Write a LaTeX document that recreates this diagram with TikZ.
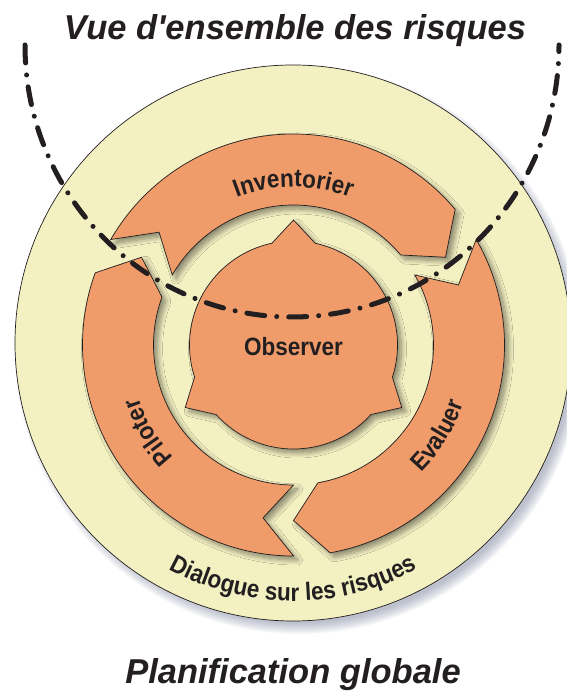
\documentclass[tikz,border=0pt]{standalone}
\usepackage{fontspec}
\setmainfont{Liberation Sans}
\newfontfamily\lblfont[FakeStretch=0.9]{Liberation Sans}
\usetikzlibrary{decorations.text,shadows.blur}
\definecolor{cream}{RGB}{243,240,194}
\definecolor{salmon}{RGB}{240,156,106}
\definecolor{ink}{RGB}{35,31,32}
\definecolor{rimshadow}{RGB}{105,115,145}

\newcommand{\lblstyle}{\lblfont\bfseries\fontsize{25pt}{28pt}\selectfont}

\begin{document}
\begin{tikzpicture}[x=1pt,y=1pt,
  band/.style={fill=salmon, draw=ink, line width=0.7pt, line join=miter,
    blur shadow={shadow xshift=4pt, shadow yshift=-4pt,
      shadow blur radius=5pt, shadow blur steps=12, shadow opacity=45}},
  disc/.style={fill=cream, draw=ink, line width=0.7pt},
  lbl/.style={text=ink, font=\lblstyle, inner sep=0pt},
  heading/.style={text=ink, inner sep=0pt,
    font=\bfseries\itshape\fontsize{34.5pt}{40pt}\selectfont},
  dashdot/.style={draw=ink, line width=5pt, line cap=round,
    dash pattern=on 18pt off 12pt on 0.01pt off 12pt},
  arclabel/.style={decorate, decoration={text along path, text align=center,
    text color=ink, text={|\lblstyle|#1}}}
]
\useasboundingbox (0,0) rectangle (566,695);
\fill[white] (0,0) rectangle (566,695);

% soft bluish shadow under the outer disc
\foreach \k in {0,...,11}
  \fill[rimshadow, opacity=0.045] (299,345) circle[radius=284-\k];

% outer disc
\path[disc] (293,352) circle[radius=278];

\begin{scope}[shift={(293.5,350)}]
  % Inventorier
  \path[band] (150:211) arc[start angle=150, end angle=40, radius=211]
    -- (30:175.5) -- (40:140) arc[start angle=40, end angle=150, radius=140]
    -- (140:175.5) -- cycle;
  % Evaluer
  \path[band] (30:211) arc[start angle=30, end angle=-80, radius=211]
    -- (-90:175.5) -- (-80:140) arc[start angle=-80, end angle=30, radius=140]
    -- (20:175.5) -- cycle;
  % Piloter
  \path[band] (270:211) arc[start angle=270, end angle=160, radius=211]
    -- (150:175.5) -- (160:140) arc[start angle=160, end angle=270, radius=140]
    -- (260:175.5) -- cycle;
  % Observer hub with three points
  \path[band] (102:104) arc[start angle=102, end angle=198, radius=104]
    -- (210:125) -- (222:104) arc[start angle=222, end angle=318, radius=104]
    -- (330:125) -- (342:104) arc[start angle=342, end angle=438, radius=104]
    -- (90:125) -- cycle;
  \node[lbl] (observer) at (0,-2) {Observer};

  % curved labels on the arrows
  \path[arclabel=Inventorier] (130:158) arc[start angle=130, end angle=50, radius=158];
  \path[arclabel=Evaluer] (-62:180) arc[start angle=-62, end angle=-2, radius=180];
  \path[arclabel=Piloter] (241:164) arc[start angle=241, end angle=181, radius=164];
\end{scope}

% label along the lower rim of the disc
\path[arclabel=Dialogue sur les risques] (293,352) ++(230:258)
  arc[start angle=230, end angle=310, radius=258];

% boundary of the overview zone
\path[dashdot] (25,650) arc[start angle=180, end angle=360, x radius=267, y radius=272];

% headings
\node[heading, anchor=base] (overview) at (295,655) {Vue d\textquotesingle ensemble des risques};
\node[heading, anchor=base] (planning) at (293,12) {Planification globale};
\end{tikzpicture}
\end{document}
